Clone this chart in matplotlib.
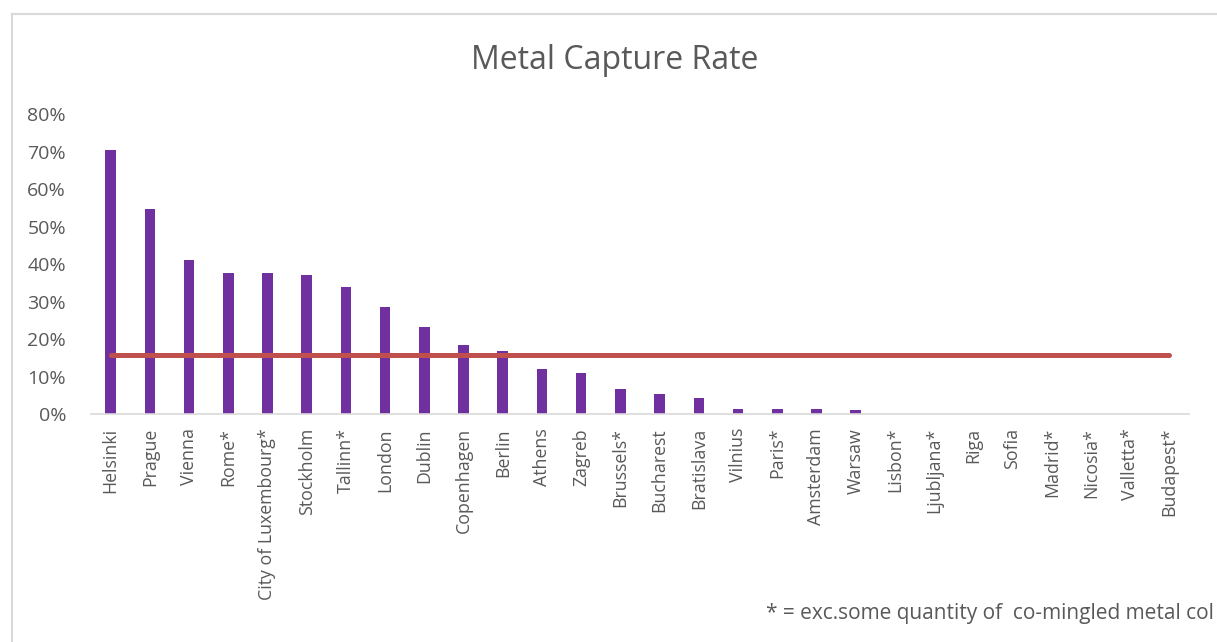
import matplotlib.pyplot as plt
from matplotlib.lines import Line2D
from matplotlib.ticker import PercentFormatter

# Datos
ciudades = ['Helsinki', 'Prague', 'Vienna', 'Rome*', 'City of Luxembourg*', 'Stockholm',
            'Tallinn*', 'London', 'Dublin', 'Copenhagen', 'Berlin', 'Athens', 'Zagreb',
            'Brussels*', 'Bucharest', 'Bratislava', 'Vilnius', 'Paris*', 'Amsterdam',
            'Warsaw', 'Lisbon*', 'Ljubljana*', 'Riga', 'Sofia', 'Madrid*', 'Nicosia*',
            'Valletta*', 'Budapest*']
tasa = [0.705, 0.548, 0.412, 0.376, 0.376, 0.370, 0.339, 0.285, 0.233, 0.183, 0.169,
        0.121, 0.110, 0.067, 0.053, 0.042, 0.014, 0.014, 0.014, 0.011, 0, 0, 0, 0, 0, 0, 0, 0]
promedio = 0.158
nota = '* = exc.some quantity of  co-mingled metal col'

gris = '#595959'
plt.rcParams['font.family'] = ['Open Sans', 'DejaVu Sans']

fig = plt.figure(figsize=(12.17, 6.42), dpi=100)
ax = fig.add_axes([0.0748, 0.3551, 0.9022, 0.4673])

x = range(len(ciudades))
ax.bar(x, tasa, width=0.27, color='#7030A0')
ax.plot([0, len(ciudades) - 1], [promedio, promedio], color='#C0504D',
        linewidth=3.6, solid_capstyle='round')

ax.set_xlim(-0.5, len(ciudades) - 0.5)
ax.set_ylim(0, 0.8)
ax.set_yticks([i / 10 for i in range(9)])
ax.yaxis.set_major_formatter(PercentFormatter(1.0, decimals=0))
ax.set_xticks(list(x))
ax.set_xticklabels(ciudades, rotation=90, fontsize=12.8, color=gris)
ax.tick_params(axis='y', labelsize=14, colors=gris, length=0, pad=18)
ax.tick_params(axis='x', length=0, pad=10)

for lado in ['top', 'right', 'left']:
    ax.spines[lado].set_visible(False)
ax.spines['bottom'].set_color('#d9d9d9')
ax.spines['bottom'].set_linewidth(1.2)

fig.text(0.505, 0.905, 'Metal Capture Rate', ha='center', va='center',
         fontsize=23, color=gris)
fig.text(0.9975, 0.045, nota, ha='right', va='center', fontsize=15, color=gris)

# Borde del área del gráfico
fig.add_artist(Line2D([0.0099, 0.0099], [0, 0.978], color='#d9d9d9', linewidth=1.5))
fig.add_artist(Line2D([0.0099, 1], [0.978, 0.978], color='#d9d9d9', linewidth=1.5))

fig.savefig('out.png', dpi=100)
